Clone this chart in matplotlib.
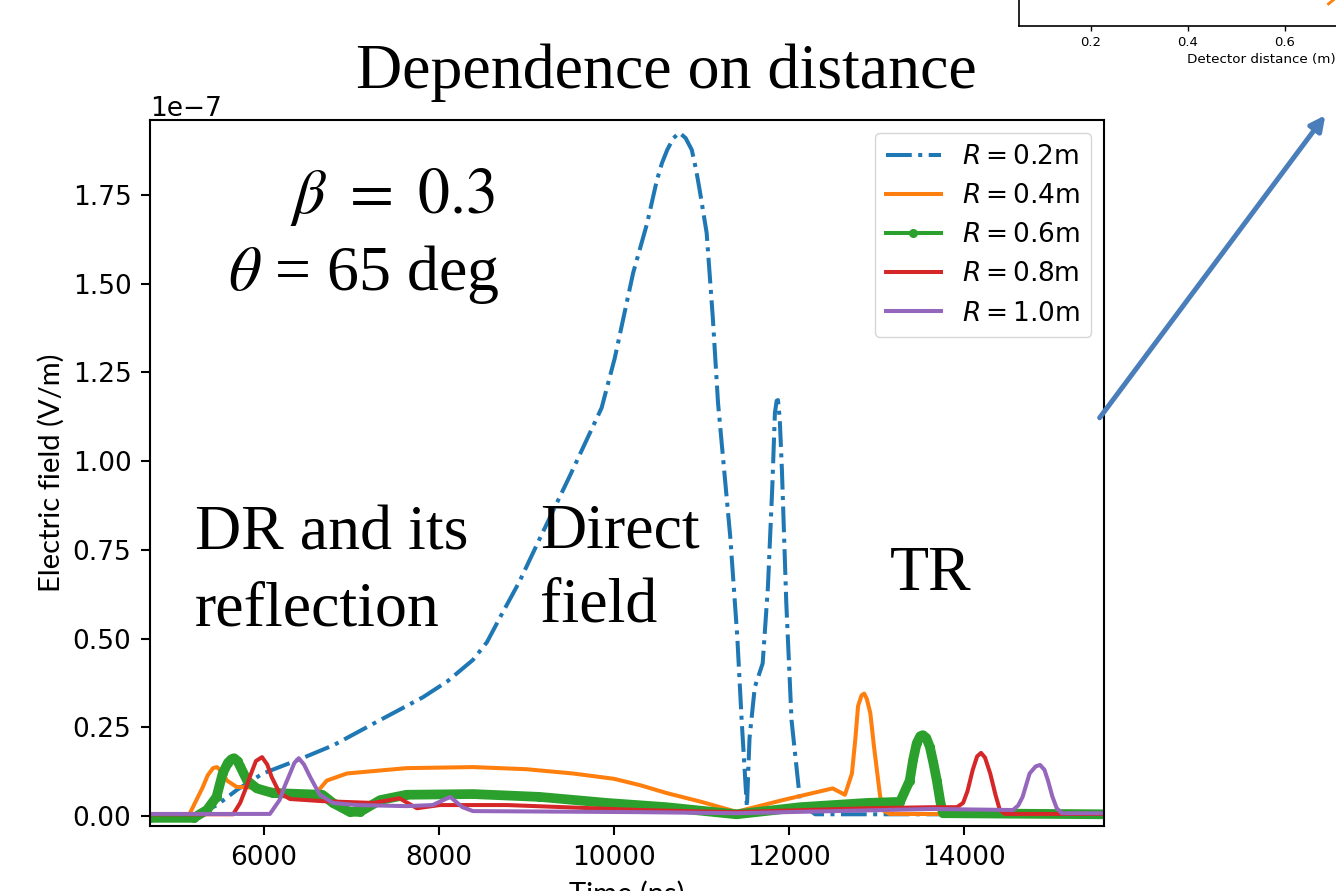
import matplotlib

matplotlib.use("Agg")
import matplotlib.pyplot as plt  # noqa: E402
from matplotlib.lines import Line2D  # noqa: E402
from matplotlib.patches import FancyArrowPatch  # noqa: E402

# Time (ns) and field (units of 1e-7 V/m)
t_r02 = [4700, 5200, 5460, 5700, 5990, 6410, 6800, 7250, 7820, 8100, 8390, 8550,
         8700, 8920, 9150, 9500, 9860, 10010, 10220, 10380, 10490, 10550, 10610,
         10680, 10750, 10820, 10890, 10940, 10980, 11060, 11130, 11190, 11330,
         11410, 11460, 11520, 11550, 11610, 11700, 11760, 11810, 11840, 11860,
         11875, 11895, 11920, 11970, 12030, 12130, 12300, 15600]
e_r02 = [0.0, 0.0, 0.03, 0.075, 0.12, 0.16, 0.20, 0.26, 0.335, 0.38, 0.44, 0.49,
         0.56, 0.66, 0.78, 0.96, 1.15, 1.29, 1.53, 1.67, 1.79, 1.84, 1.877,
         1.91, 1.925, 1.91, 1.877, 1.82, 1.764, 1.643, 1.406, 1.164, 0.786,
         0.505, 0.27, 0.025, 0.22, 0.363, 0.43, 0.645, 0.927, 1.136, 1.17,
         1.172, 1.12, 0.975, 0.60, 0.27, 0.037, 0.005, 0.005]

t_r04 = [4700, 5150, 5300, 5360, 5420, 5465, 5520, 5580, 5690, 5920, 6300, 6600,
         6720, 6950, 7630, 8390, 9000, 9530, 10000, 10300, 10600, 11000, 11400,
         11930, 12500, 12640, 12720, 12760, 12790, 12830, 12860, 12890, 12930,
         12970, 13010, 13040, 13070, 13150, 15600]
e_r04 = [0.005, 0.005, 0.08, 0.115, 0.135, 0.138, 0.125, 0.10, 0.082, 0.08, 0.068,
         0.065, 0.10, 0.12, 0.135, 0.138, 0.132, 0.12, 0.105, 0.087, 0.065, 0.04,
         0.012, 0.045, 0.078, 0.06, 0.12, 0.22, 0.31, 0.34, 0.345, 0.33, 0.29,
         0.20, 0.12, 0.06, 0.017, 0.006, 0.005]

t_r06 = [4700, 5200, 5350, 5460, 5530, 5590, 5630, 5660, 5700, 5730, 5810, 5920,
         6100, 6670, 6790, 6980, 7100, 7330, 7630, 8390, 9150, 9920, 10600,
         11400, 12130, 12890, 13270, 13380, 13420, 13460, 13500, 13530, 13570,
         13610, 13650, 13690, 13730, 13760, 15600]
e_r06 = [-0.005, -0.005, 0.017, 0.054, 0.12, 0.15, 0.16, 0.163, 0.155, 0.14, 0.10,
         0.078, 0.065, 0.06, 0.037, 0.012, 0.012, 0.045, 0.06, 0.062, 0.054,
         0.037, 0.025, 0.005, 0.025, 0.037, 0.04, 0.10, 0.16, 0.205, 0.225,
         0.228, 0.22, 0.195, 0.15, 0.10, 0.04, 0.008, 0.005]

t_r08 = [4700, 5650, 5730, 5790, 5840, 5910, 5980, 6040, 6090, 6180, 6300, 6670,
         7250, 7550, 7750, 8010, 8780, 10300, 11360, 12890, 13650, 13920, 13990,
         14040, 14100, 14150, 14195, 14240, 14300, 14360, 14410, 14470, 15600]
e_r08 = [0.005, 0.005, 0.037, 0.075, 0.11, 0.155, 0.166, 0.145, 0.11, 0.065,
         0.048, 0.042, 0.037, 0.05, 0.022, 0.031, 0.031, 0.017, 0.011, 0.022,
         0.025, 0.025, 0.037, 0.07, 0.13, 0.168, 0.178, 0.165, 0.12, 0.06, 0.017,
         0.006, 0.006]

t_r10 = [4700, 6070, 6180, 6240, 6300, 6350, 6400, 6460, 6530, 6640, 6790, 7060,
         7630, 7930, 8130, 8270, 8390, 10300, 11400, 13650, 14560, 14620, 14670,
         14750, 14820, 14870, 14920, 14960, 15010, 15060, 15120, 15600]
e_r10 = [0.006, 0.006, 0.045, 0.085, 0.12, 0.15, 0.163, 0.145, 0.11, 0.06, 0.037,
         0.031, 0.028, 0.031, 0.054, 0.025, 0.014, 0.011, 0.008, 0.02, 0.017,
         0.03, 0.054, 0.12, 0.14, 0.144, 0.13, 0.10, 0.055, 0.022, 0.008, 0.008]

labels = [r"$R = 0.2$m", r"$R = 0.4$m", r"$R = 0.6$m", r"$R = 0.8$m", r"$R = 1.0$m"]
colors = ["#1f77b4", "#ff7f0e", "#2ca02c", "#d62728", "#9467bd"]

# fragment of the (cropped) inset plot in the top right corner
inset_distance = [0.69, 0.70]
inset_value = [0.85, 1.0]
inset_ticks = [0.2, 0.4, 0.6, 0.8, 1.0]

SCALE = 1e-7
W, H = 1336, 891

plt.rcParams.update({
    "font.size": 19,
    "mathtext.fontset": "dejavusans",
    "lines.linewidth": 2.9,
    "axes.linewidth": 1.5,
    "xtick.major.size": 6.7,
    "ytick.major.size": 6.7,
    "xtick.major.width": 1.5,
    "ytick.major.width": 1.5,
    "xtick.major.pad": 6.7,
    "ytick.major.pad": 6.7,
    "axes.labelpad": 7.7,
})


def fx(x):
    return x / W


def fy(y):
    return 1 - y / H


fig = plt.figure(figsize=(W / 100, H / 100), dpi=100)
ax = fig.add_axes([fx(150), fy(826), (1104 - 150) / W, (826 - 120) / H])

series = [(t_r02, e_r02), (t_r04, e_r04), (t_r06, e_r06), (t_r08, e_r08), (t_r10, e_r10)]
for i, (t, e) in enumerate(series):
    vals = [v * SCALE for v in e]
    if i == 0:
        ax.plot(t, vals, "-.", color=colors[i])
    elif i == 2:
        ax.plot(t, vals, "-", marker=".", ms=11, lw=7, color=colors[i])
    else:
        ax.plot(t, vals, "-", color=colors[i])

handles = [
    Line2D([], [], ls="-.", color=colors[0], lw=2.9),
    Line2D([], [], color=colors[1], lw=2.9),
    Line2D([], [], color=colors[2], lw=2.9, marker=".", ms=11),
    Line2D([], [], color=colors[3], lw=2.9),
    Line2D([], [], color=colors[4], lw=2.9),
]
ax.legend(handles, labels, loc="upper right", fontsize=19, handlelength=2.1)

ax.set_xlim(4700, 15600)
ax.set_ylim(-0.028e-7, 1.961e-7)
ax.set_xticks([6000, 8000, 10000, 12000, 14000])
ax.set_yticks([v * SCALE for v in [0, 0.25, 0.5, 0.75, 1.0, 1.25, 1.5, 1.75]])
ax.set_xlabel("Time (ns)", family="Lato", fontsize=21)
ax.set_ylabel("Electric field (V/m)", family="Lato", fontsize=21, labelpad=6)

# cropped inset at top right
ins = fig.add_axes([fx(1019), fy(26), 484 / W, 26 / H])
ins.plot(inset_distance, inset_value, color=colors[1], lw=2)
ins.set_xlim(0.0516, 1.05)
ins.set_ylim(0, 1)
ins.set_xticks(inset_ticks)
ins.set_yticks([])
ins.spines[["top", "right"]].set_visible(False)
ins.spines[["left", "bottom"]].set_linewidth(1.2)
ins.tick_params(axis="x", labelsize=9.5, length=3.5, width=1, pad=3.5)
ins.set_xlabel("Detector distance (m)", fontsize=9.7, labelpad=3)

serif = dict(family="Liberation Serif", fontsize=46, va="baseline")
plt.rcParams["mathtext.fontset"] = "stix"
fig.text(fx(666), fy(88), "Dependence on distance", ha="center", **serif)
fig.text(fx(290), fy(213), r"$\beta\ =\ 0.3$", ha="left", **serif)
fig.text(fx(228), fy(290), r"$\theta$ = 65 deg", ha="left", **serif)
fig.text(fx(195), fy(550), "DR and its", ha="left", **serif)
fig.text(fx(195), fy(625), "reflection", ha="left", **serif)
fig.text(fx(540), fy(547), "Direct", ha="left", **serif)
fig.text(fx(540), fy(622), "field", ha="left", **serif)
fig.text(fx(890), fy(590), "TR", ha="left", **serif)

arrow = FancyArrowPatch((fx(1098), fy(420)), (fx(1327), fy(113)),
                        transform=fig.transFigure, arrowstyle="-|>",
                        mutation_scale=22, lw=3.6, color="#4A7EBB")
fig.add_artist(arrow)

fig.savefig("out.png", dpi=100, facecolor="white")
